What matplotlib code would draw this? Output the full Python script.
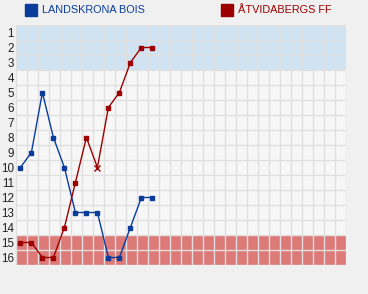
import matplotlib.pyplot as plt
import matplotlib.patches as mpatches
import numpy as np

plt.rcParams['font.family'] = ['Liberation Sans', 'DejaVu Sans']

BLUE = '#0a3c9c'
RED = '#9c0000'
BG = '#f0f0f0'

n_rounds = 30
n_teams = 16
rounds = np.arange(1, 14)
landskrona = [10, 9, 5, 8, 10, 13, 13, 13, 16, 16, 14, 12, 12]
atvidaberg = [15, 15, 16, 16, 14, 11, 8, 10, 6, 5, 3, 2, 2]
atv_markers = ['s'] * 7 + ['x'] + ['s'] * 5
positions = list(range(1, n_teams + 1))
teams = ['LANDSKRONA BOIS', 'ÅTVIDABERGS FF']

W, H = 368, 294
fig = plt.figure(figsize=(W / 100, H / 100), dpi=100, facecolor=BG)
ax = fig.add_axes([16 / W, (H - 265) / H, 330 / W, 240 / H])
ax.set_facecolor('#f7f7f7')

# zones
ax.axhspan(0.5, 3.5, color='#cfe3f2', zorder=0, lw=0)
ax.axhspan(14.5, 16.5, color='#dd7a78', zorder=0, lw=0)

ax.set_xlim(0, n_rounds)
ax.set_ylim(n_teams + 0.5, 0.5)
ax.set_xticks(np.arange(0, n_rounds + 1), minor=True)
ax.set_yticks(np.arange(0.5, n_teams + 1), minor=True)
ax.set_xticks([])
ax.set_yticks(positions)
ax.set_yticklabels([str(p) for p in positions])
ax.grid(which='minor', color='#e0e0e0', lw=1.0, zorder=1)
ax.tick_params(which='both', length=0, pad=1.5, labelsize=8.4, labelcolor='#222222')
for s in ax.spines.values():
    s.set_visible(False)

x = rounds - 0.6
ax.plot(x, landskrona, color=BLUE, lw=1.0, zorder=3)
ax.plot(x, landskrona, 's', color=BLUE, ms=2.6, zorder=4)
ax.plot(x, atvidaberg, color=RED, lw=1.0, zorder=3)
for xi, yi, m in zip(x, atvidaberg, atv_markers):
    if m == 'x':
        ax.plot(xi, yi, 'x', color=RED, ms=4.5, mew=1.0, zorder=4)
    else:
        ax.plot(xi, yi, 's', color=RED, ms=2.6, zorder=4)

# legend
for (x0, col, name) in [(25, BLUE, teams[0]), (221, RED, teams[1])]:
    fig.patches.append(mpatches.Rectangle((x0 / W, (H - 16) / H), 12 / W, 12 / H,
                                          transform=fig.transFigure, color=col))
    fig.text((x0 + 17) / W, (H - 10) / H, name, color=col, fontsize=7.8,
             va='center', ha='left')

fig.savefig('out.png', dpi=100, facecolor=BG)
